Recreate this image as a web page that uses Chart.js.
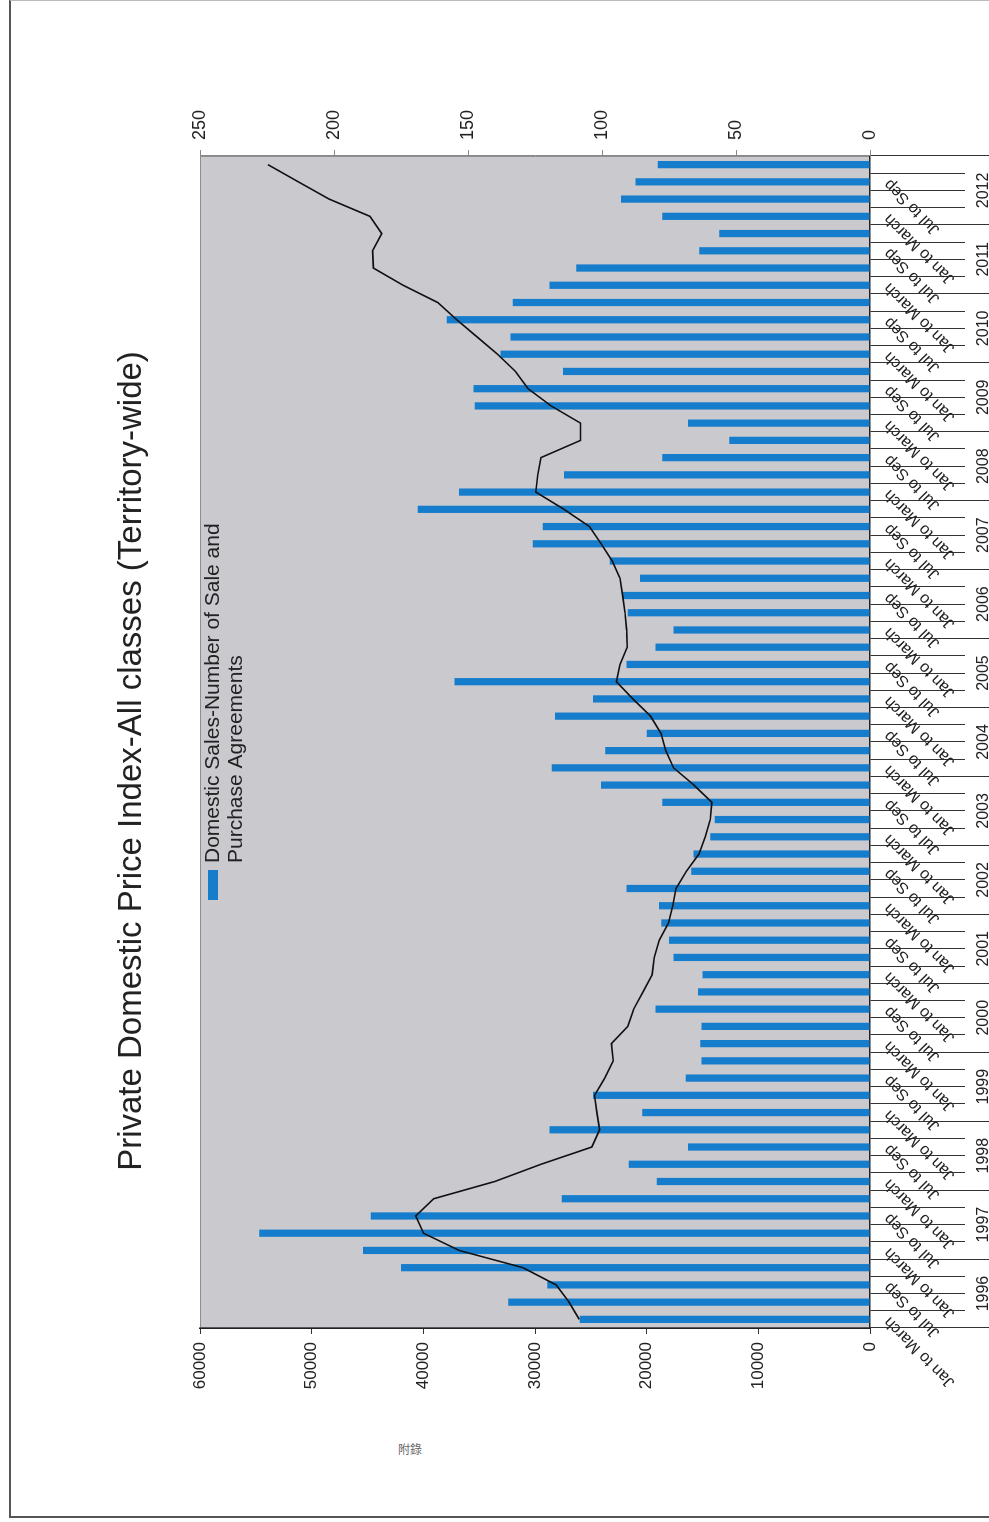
<!DOCTYPE html>
<html>
<head>
<meta charset="utf-8">
<script src="https://cdn.jsdelivr.net/npm/chart.js@4.4.1/dist/chart.umd.min.js"></script>
<style>
  html, body { margin: 0; padding: 0; background: #fff; }
  body { width: 989px; height: 1522px; position: relative; overflow: hidden; }
  /* page frame of the scanned sheet */
  #frame { position: absolute; left: 9px; top: 0; width: 1000px; height: 1515px;
           border-left: 2px solid #555; border-bottom: 2px solid #555; border-top: 1px solid #bbb; }
  #stamp { position: absolute; left: 398px; top: 1440px; font: 12px "Noto Sans CJK TC", sans-serif; color: #666; }
  /* the chart is drawn landscape and turned a quarter left */
  #turn { position: absolute; left: 0; top: 1522px; width: 1522px; height: 989px;
          transform: rotate(-90deg); transform-origin: 0 0; }
</style>
</head>
<body>
<div id="frame"></div>
<div id="stamp">附錄</div>
<div id="turn"><canvas id="pdpi" width="1522" height="989"></canvas></div>
<script>
// ---------- DATA ----------
const years = ['1996', '1997', '1998', '1999', '2000', '2001', '2002', '2003', '2004',
  '2005', '2006', '2007', '2008', '2009', '2010', '2011', '2012'];
const quarterNames = ['Jan to March', 'Apr to Jun', 'Jul to Sep', 'Oct to Dec'];

// number of sale and purchase agreements, quarterly
const salesAgreements = [
  26000, 32400, 28900, 42000,
  45400, 54700, 44700, 27600,
  19100, 21600, 16300, 28700,
  20400, 24800, 16500, 15100,
  15200, 15100, 19200, 15400,
  15000, 17600, 18000, 18700,
  18900, 21800, 16000, 15800,
  14300, 13900, 18600, 24100,
  28500, 23700, 20000, 28200,
  24800, 37200, 21800, 19200,
  17600, 21700, 22200, 20600,
  23300, 30200, 29300, 40500,
  36800, 27400, 18600, 12600,
  16300, 35400, 35500, 27500,
  33100, 32200, 37900, 32000,
  28700, 26300, 15300, 13500,
  18600, 22300, 21000, 19000
];

// price index, all classes (right axis)
const priceIndex = [
  108.5, 112.3, 117.1, 129.5,
  153.3, 166.6, 169.5, 162.8,
  140.0, 122.8, 103.8, 100.9,
  101.9, 102.8, 99.0, 95.8,
  96.5, 90.4, 88.2, 84.7,
  81.3, 80.5, 78.6, 75.2,
  73.6, 72.4, 68.5, 63.8,
  61.5, 59.6, 59.0, 65.7,
  73.3, 76.2, 78.0, 81.9,
  88.5, 94.6, 93.3, 90.6,
  90.8, 91.4, 92.3, 93.3,
  96.2, 100.3, 104.7, 114.2,
  124.7, 124.0, 122.8, 108.0,
  108.0, 119.0, 127.6, 132.3,
  139.0, 146.6, 154.2, 161.3,
  174.2, 185.3, 185.6, 182.2,
  186.6, 201.8, 213.3, 224.7
];

const salesAxis = { min: 0, max: 60000, step: 10000 };
const indexAxis = { min: 0, max: 250, step: 50 };

const titleText = 'Private Domestic Price Index-All classes (Territory-wide)';
const legendLines = ['Domestic Sales-Number of Sale and', 'Purchase Agreements'];

const quarterLabels = years.flatMap(() => quarterNames);

const FONT = 'Arial, "Liberation Sans", sans-serif';
const INK = '#222';

// ---------- PLUGINS ----------
// grey plot area
const plotBack = {
  id: 'plotBack',
  beforeDraw(chart) {
    const { ctx, chartArea: a } = chart;
    ctx.save();
    ctx.fillStyle = '#c9c9ce';
    ctx.fillRect(a.left, a.top, a.right - a.left, a.bottom - a.top);
    ctx.strokeStyle = '#8e8e8e';
    ctx.lineWidth = 1;
    ctx.strokeRect(a.left + 0.5, a.top + 0.5, a.right - a.left - 1, a.bottom - a.top - 1);
    ctx.restore();
  }
};

// legend sits inside the plot, only the bar series
const plotLegend = {
  id: 'plotLegend',
  afterDatasetsDraw(chart) {
    const { ctx, chartArea: a } = chart;
    const ds = chart.data.datasets[0];
    const x = a.left + 428, y = a.top + 8;
    ctx.save();
    ctx.fillStyle = ds.backgroundColor;
    ctx.fillRect(x, y, 30, 10);
    ctx.fillStyle = INK;
    ctx.font = '21px ' + FONT;
    ctx.textBaseline = 'middle';
    legendLines.forEach((t, i) => ctx.fillText(t, x + 37, y + 5 + i * 23));
    ctx.restore();
  }
};

// ---------- CHART ----------
const pdpi = document.getElementById('pdpi');
new Chart(pdpi, {
  data: {
    labels: quarterLabels,
    datasets: [{
      type: 'bar',
      label: legendLines.join(' '),
      data: salesAgreements,
      backgroundColor: '#167dcc',
      barPercentage: 0.42,
      categoryPercentage: 1.0,
      yAxisID: 'y',
      order: 1
    }, {
      type: 'line',
      label: 'Price Index',
      data: priceIndex,
      borderColor: '#111',
      borderWidth: 1.6,
      pointRadius: 0,
      tension: 0,
      yAxisID: 'y1',
      order: 0
    }]
  },
  options: {
    responsive: false,
    animation: false,
    layout: { padding: 0 },
    plugins: {
      legend: { display: false },
      tooltip: { enabled: false },
      title: {
        display: true,
        text: titleText,
        color: INK,
        font: { family: FONT, size: 33, weight: 'normal' },
        padding: { top: 112, bottom: 48.4 }
      }
    },
    scales: {
      x: {
        type: 'category',
        position: 'bottom',
        weight: 0,
        offset: true,
        grid: { offset: true, drawOnChartArea: false, tickLength: 95, color: '#333', lineWidth: 1 },
        border: { display: true, color: '#222', width: 1.5 },
        ticks: {
          autoSkip: false,
          minRotation: 45,
          maxRotation: 45,
          padding: -85,
          color: INK,
          font: { family: FONT, size: 16 },
          callback: function (value, index) {
            return index % 2 === 0 ? this.getLabelForValue(value) : '';
          }
        },
        afterFit: (s) => { s.height = 95; }
      },
      x2: {
        type: 'category',
        position: 'bottom',
        weight: 1,
        labels: years,
        offset: true,
        grid: { offset: true, drawOnChartArea: false, tickLength: 24, color: '#333', lineWidth: 1 },
        border: { display: false },
        ticks: {
          autoSkip: false,
          maxRotation: 0,
          padding: -15,
          color: INK,
          font: { family: FONT, size: 16 }
        },
        afterFit: (s) => { s.height = 24; }
      },
      y: {
        position: 'left',
        min: salesAxis.min,
        max: salesAxis.max,
        grid: { drawOnChartArea: false, tickLength: 6, color: '#333' },
        border: { display: true, color: '#222', width: 1.5 },
        ticks: {
          stepSize: salesAxis.step, padding: 8, color: INK, font: { family: FONT, size: 17 },
          callback: (v) => String(v)
        },
        afterFit: (s) => { s.width = 194; }
      },
      y1: {
        position: 'right',
        min: indexAxis.min,
        max: indexAxis.max,
        grid: { drawOnChartArea: false, tickLength: 6, color: '#888' },
        border: { display: true, color: '#888', width: 1 },
        ticks: {
          stepSize: indexAxis.step, padding: 10, color: INK, font: { family: FONT, size: 18 },
          callback: (v) => String(v)
        },
        afterFit: (s) => { s.width = 156; }
      }
    }
  },
  plugins: [plotBack, plotLegend]
});
</script>
</body>
</html>
